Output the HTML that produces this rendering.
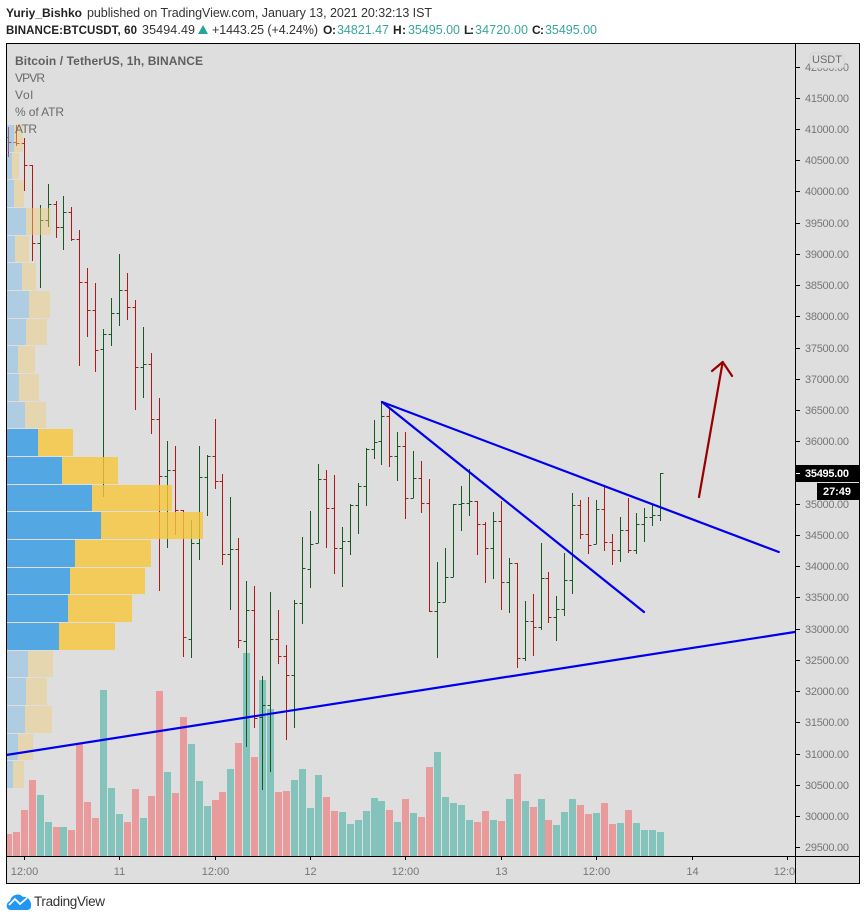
<!DOCTYPE html>
<html lang="en">
<head>
<meta charset="utf-8">
<title>BTCUSDT chart</title>
<style>
html,body{margin:0;padding:0;background:#fff;width:866px;height:920px;overflow:hidden}
svg{display:block;font-family:"Liberation Sans",sans-serif}
</style>
</head>
<body>
<svg id="chart" xmlns="http://www.w3.org/2000/svg" width="866" height="920" viewBox="0 0 866 920">
  <defs>
    <clipPath id="pane-clip"><rect x="7" y="44" width="788" height="812"/></clipPath>
    <clipPath id="time-clip"><rect x="7" y="857" width="788" height="26"/></clipPath>
  </defs>
  <rect x="6" y="43" width="853" height="840" fill="#dedede"/>

  <g id="volume-layer" clip-path="url(#pane-clip)"></g>
  <g id="bar-layer" clip-path="url(#pane-clip)" shape-rendering="crispEdges"></g>
  <g id="vp-layer" clip-path="url(#pane-clip)" shape-rendering="crispEdges"></g>
  <g id="drawing-layer" clip-path="url(#pane-clip)"></g>

  <g font-size="12" fill="#6a6a6a">
    <text x="15" y="65" font-weight="bold" fill="#5f5f5f" textLength="188">Bitcoin / TetherUS, 1h, BINANCE</text>
    <text x="15" y="82" textLength="30">VPVR</text>
    <text x="15" y="99" textLength="18">Vol</text>
    <text x="15" y="116" textLength="49">% of ATR</text>
    <text x="15" y="133" textLength="22">ATR</text>
  </g>

  <g id="price-axis"></g>
  <g id="time-axis"></g>

  <g fill="none" stroke="#000" stroke-width="1" shape-rendering="crispEdges">
    <rect x="6.5" y="43.5" width="853" height="840"/>
    <line x1="795.5" y1="43" x2="795.5" y2="884"/>
    <line x1="6" y1="856.5" x2="860" y2="856.5"/>
  </g>

  <g>
    <rect x="810" y="53" width="34" height="15" rx="3" fill="#dedede" stroke="#d4d4dc"/>
    <text x="827" y="63" font-size="11" fill="#6a6a6a" text-anchor="middle">USDT</text>
  </g>

  <g shape-rendering="crispEdges">
    <rect x="795" y="465" width="64" height="17" fill="#000"/>
    <line x1="796" y1="473.5" x2="800" y2="473.5" stroke="#fff"/>
    <rect x="817" y="483" width="42" height="17" fill="#000"/>
  </g>
  <text x="805" y="477" font-size="11" font-weight="bold" fill="#fff" textLength="44">35495.00</text>
  <text x="823" y="495" font-size="11" font-weight="bold" fill="#fff" textLength="28">27:49</text>

  <g font-size="12.5">
    <text x="6" y="17" font-size="12" font-weight="bold" fill="#222" textLength="76">Yuriy_Bishko</text>
    <text x="87" y="17" fill="#333" textLength="345">published on TradingView.com, January 13, 2021 20:32:13 IST</text>
    <text x="6" y="34" font-size="11.5" font-weight="bold" fill="#222" textLength="131">BINANCE:BTCUSDT, 60</text>
    <text x="142" y="34" fill="#333" textLength="53">35494.49</text>
    <polygon points="198,34 208,34 203,25" fill="#26a69a"/>
    <text x="212" y="34" fill="#333" textLength="106">+1443.25 (+4.24%)</text>
    <text x="323" y="34" font-size="12" font-weight="bold" fill="#222" textLength="13">O:</text>
    <text x="337" y="34" fill="#37a69b" textLength="52">34821.47</text>
    <text x="393" y="34" font-size="12" font-weight="bold" fill="#222" textLength="13">H:</text>
    <text x="408" y="34" fill="#37a69b" textLength="52">35495.00</text>
    <text x="464" y="34" font-size="12" font-weight="bold" fill="#222" textLength="10">L:</text>
    <text x="475" y="34" fill="#37a69b" textLength="53">34720.00</text>
    <text x="532" y="34" font-size="12" font-weight="bold" fill="#222" textLength="12">C:</text>
    <text x="545" y="34" fill="#37a69b" textLength="52">35495.00</text>
  </g>

  <g>
    <path d="M11 910 C6 910 5 903 10 901 C11 895 19 892 23 897 C28 896 32 902 31 906 C31 909 29 910 27 910 Z" fill="#2196f3"/>
    <path d="M9 905 L15 899 L20 904 L27 898" fill="none" stroke="#fff" stroke-width="1.8"/>
    <text x="34" y="906" font-size="13.5" fill="#333" textLength="71">TradingView</text>
  </g>
</svg>
<script>
const opens = [40872,40792,40776,40424,39175,39543,39799,39431,39671,39239,38550,38102,37477,37718,38054,38422,38150,37189,37237,36357,35444,35540,34899,32834,34371,35428,35764,35364,34195,34275,32802,33298,31585,31777,32834,32561,32257,33410,33955,34371,35396,34931,34291,34403,34979,35284,35876,36004,36405,35764,35924,35092,35412,35011,33282,33426,33827,34995,35011,35043,34675,34291,34723,33746,34051,32529,33122,33026,33811,33186,33314,33779,34979,34515,34355,34915,34387,34259,34579,34259,34675,34787,34821];
const highs = [41032,41064,40856,40424,39783,40120,39847,39927,39751,39383,38775,38534,37798,38294,38999,38694,38262,37830,37413,36693,36004,35924,34899,34739,35924,35780,36357,35476,35108,34451,33762,33682,32241,33586,33298,32738,33458,34467,34883,35636,35540,35460,34627,34995,35332,35892,36341,36629,36517,36148,36148,35844,35684,35396,34067,34291,34995,35284,35556,35043,34707,34867,35043,34131,34051,33442,33554,34371,33907,33522,34211,35172,35059,35108,35059,35268,34515,34787,35092,34851,34931,34979,35495];
const lows = [40552,40728,40008,38887,38454,39431,39255,39063,39207,37205,37670,37109,35108,37525,37846,37942,36501,36693,36116,33602,34291,34499,32545,32529,34099,34803,35236,34019,33298,32690,31104,31408,30416,30704,32433,31216,31408,33074,33650,34371,34291,33875,33666,34179,34515,34963,35716,35620,35588,35364,34755,35092,34851,33266,32529,33426,33827,34563,34803,34179,33730,33795,33298,33250,32369,32481,32561,32978,33090,32802,33202,33554,34435,34195,34355,34243,34019,34067,34211,34195,34387,34643,34720];
const closes = [40792,40776,40424,39175,39543,39799,39431,39671,39239,38550,38102,37461,37718,38054,38422,38150,37189,37237,36357,35444,35540,34899,32866,34371,35428,35764,35364,34195,34275,32818,33298,31569,31777,32834,32561,32257,33410,33971,34355,35396,34931,34291,34403,34979,35284,35876,35988,36405,35764,35924,35092,35412,35011,33282,33426,33827,34995,35011,35043,34675,34291,34723,33746,34051,32529,33122,33026,33811,33186,33314,33779,34979,34515,34339,34915,34387,34259,34579,34259,34675,34787,34819,35495];
const volumes = [220,240,460,760,610,340,290,290,260,1120,540,380,1660,680,420,340,670,380,600,1650,840,630,1390,1120,750,500,560,640,870,1130,2030,990,1760,1470,640,650,760,870,480,810,590,450,440,320,360,450,580,550,460,340,570,430,390,890,1040,590,530,510,360,340,450,360,350,570,820,550,490,570,360,310,440,570,510,420,430,530,320,330,460,330,260,260,240];

const vpBuy = [7,5,7,19,8,15,22,19,11,12,18,31,55,85,94,68,63,61,52,21,19,18,11,6];
const vpSell = [9,7,10,25,14,14,21,21,17,20,21,35,56,80,102,76,75,64,56,25,21,27,15,11];
const vpHighPrice = 41064;
const vpLowPrice = 30432;
const valueAreaFirstRow = 11;
const valueAreaLastRow = 18;

const priceTicks = [42000,41500,41000,40500,40000,39500,39000,38500,38000,37500,37000,36500,36000,35500,35000,34500,34000,33500,33000,32500,32000,31500,31000,30500,30000,29500];
const timeTickBars = [2,14,26,38,50,62,74,86,98];
const timeTickLabels = ['12:00','11','12:00','12','12:00','13','12:00','14','12:00'];

const trendLineMain = [[47,36629],[96.9,34227]];
const trendLineSteep = [[47,36629],[79.95,33266]];
const trendLineSupport = [[-0.3,30976],[98.9,32946]];
const arrowShaft = [[86.87,35108],[89.85,37269]];
const arrowHead = [[88.5,37125],[89.85,37269],[91.03,37045]];

const NS = 'http://www.w3.org/2000/svg';
function xBar(i) { return Math.floor(8.3 + i * 7.951); }
function xExact(i) { return 8.3 + i * 7.951; }
function yPrice(p) { return 129 + (41000 - p) * 0.06245; }
function yVolume(v) { return 856 - v / 10; }
function xVp(v) { return 7 + v; }
function make(tag, attrs, parent) {
  const el = document.createElementNS(NS, tag);
  for (const k in attrs) el.setAttribute(k, attrs[k]);
  parent.appendChild(el);
  return el;
}

const volumeLayer = document.getElementById('volume-layer');
volumes.forEach(function (v, i) {
  const up = closes[i] >= opens[i];
  const top = yVolume(v);
  const rect = make('rect', { x: xBar(i) - 3, y: top, width: 7, height: 856 - top, fill: up ? '#84c3bc' : '#e89b9a' }, volumeLayer);
  
  
});

const barLayer = document.getElementById('bar-layer');
opens.forEach(function (o, i) {
  const x = xBar(i) + 0.5;
  const up = closes[i] >= o;
  const yO = Math.round(yPrice(o)) + 0.5;
  const yC = Math.round(yPrice(closes[i])) + 0.5;
  const d = 'M' + x + ' ' + yPrice(highs[i]).toFixed(1) + 'V' + yPrice(lows[i]).toFixed(1) +
            'M' + (x - 3) + ' ' + yO + 'H' + x + 'M' + x + ' ' + yC + 'H' + (x + 3);
  const bar = make('path', { d: d, fill: 'none', stroke: up ? '#155a20' : '#ad1a1a', 'stroke-width': 1 }, barLayer);
  
  
});

const vpLayer = document.getElementById('vp-layer');
const vpRowPrice = (vpHighPrice - vpLowPrice) / vpBuy.length;
vpBuy.forEach(function (buy, i) {
  const top = Math.round(yPrice(vpHighPrice - i * vpRowPrice));
  const next = Math.round(yPrice(vpHighPrice - (i + 1) * vpRowPrice));
  const inVa = i >= valueAreaFirstRow && i <= valueAreaLastRow;
  const buyRect = make('rect', { x: xVp(0), y: top, width: buy, height: next - top - 1, fill: inVa ? 'rgba(47,153,228,0.8)' : 'rgba(115,184,231,0.45)' }, vpLayer);
  
  
  const sellRect = make('rect', { x: xVp(buy), y: top, width: vpSell[i], height: next - top - 1, fill: inVa ? 'rgba(247,197,58,0.8)' : 'rgba(240,204,120,0.45)' }, vpLayer);
  
  
});

function drawPolyline(points, color, width, name) {
  const d = points.map(function (p, k) { return (k ? 'L' : 'M') + xExact(p[0]).toFixed(1) + ' ' + yPrice(p[1]).toFixed(1); }).join('');
  const line = make('path', { d: d, fill: 'none', stroke: color, 'stroke-width': width, 'stroke-linecap': 'round', 'stroke-linejoin': 'round' }, document.getElementById('drawing-layer'));
  
  
}
drawPolyline(trendLineMain, '#0000ee', 2.2, 'trendline-main-resistance');
drawPolyline(trendLineSteep, '#0000ee', 2.2, 'trendline-steep-resistance');
drawPolyline(trendLineSupport, '#0000ee', 2.2, 'trendline-support');
drawPolyline(arrowShaft, '#990000', 2.2, 'up-arrow-shaft');
drawPolyline(arrowHead, '#990000', 2.2, 'up-arrow-head');

const priceAxis = document.getElementById('price-axis');
priceTicks.forEach(function (p) {
  const y = Math.round(yPrice(p));
  const tick = make('line', { x1: 796, x2: 800, y1: y + 0.5, y2: y + 0.5, stroke: '#000', 'shape-rendering': 'crispEdges' }, priceAxis);
  
  
  const label = make('text', { x: 805, y: y + 4, 'font-size': 11, fill: '#777', textLength: 44 }, priceAxis);
  label.textContent = p.toFixed(2);
  
  
});

const timeAxis = document.getElementById('time-axis');
timeTickBars.forEach(function (b, i) {
  const x = xBar(b) + 0.5;
  const tick = make('line', { x1: x, x2: x, y1: 856, y2: 860, stroke: '#000', 'shape-rendering': 'crispEdges' }, timeAxis);
  
  
  const label = make('text', { x: x, y: 875, 'font-size': 11, fill: '#777', 'text-anchor': 'middle', 'clip-path': 'url(#time-clip)' }, timeAxis);
  label.textContent = timeTickLabels[i];
  
  
});
</script>
</body>
</html>
